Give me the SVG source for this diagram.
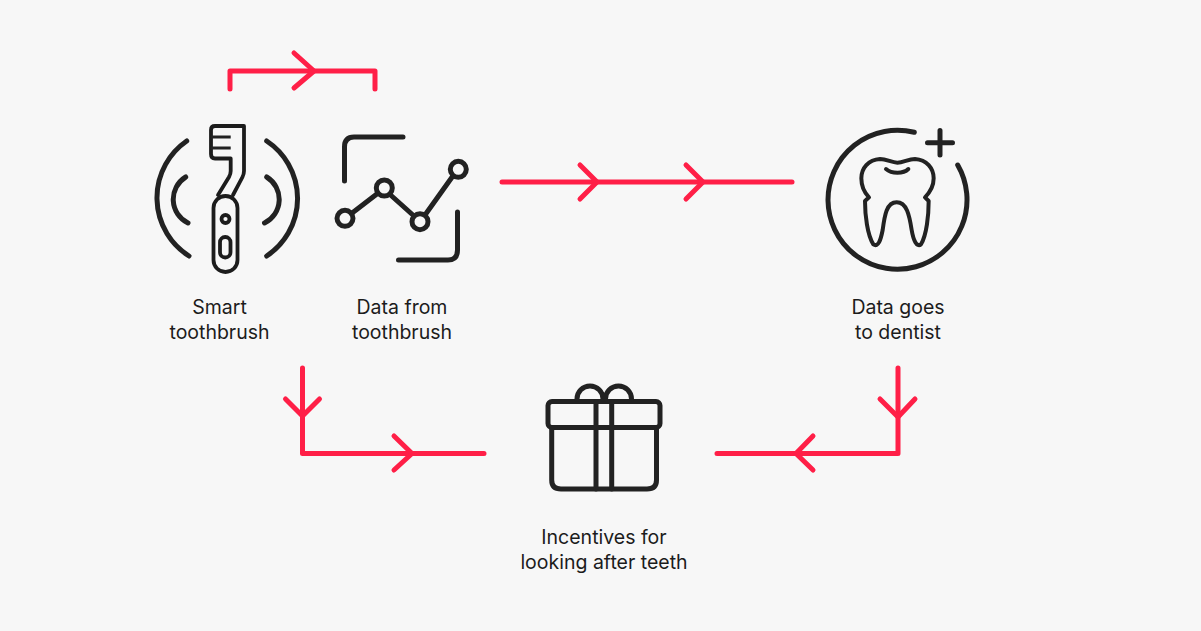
<svg xmlns="http://www.w3.org/2000/svg" width="1201" height="631" viewBox="0 0 1201 631">
<style>
.c{fill:none;stroke:#ff1f47;stroke-width:5;stroke-linecap:round;stroke-linejoin:round}
.i{fill:none;stroke:#222;stroke-width:5;stroke-linecap:round;stroke-linejoin:round}
.t{fill:none;stroke:#1c1c1c;stroke-width:3.800;stroke-linecap:round;stroke-linejoin:round}
.l{font-family:"Inter","Liberation Sans",sans-serif;font-size:19.500px;fill:#1c1c1c;text-anchor:middle}
</style>
<rect width="1201" height="631" fill="#f7f7f7"/>
<g id="connectors">
<path class="c" d="M230 89V71H375V89"/><path class="c" d="M294 53L314 71L294 88"/>
<path class="c" d="M502 182H792"/><path class="c" d="M580 165L597 182L580 199"/><path class="c" d="M686 165L703 182L686 199"/>
<path class="c" d="M302.500 368V453.500H484"/><path class="c" d="M285.500 399L302.500 416L319.500 399"/><path class="c" d="M394 436L412 453.500L394 470"/>
<path class="c" d="M898 368V453.500H717"/><path class="c" d="M880 399L898 417L915 399"/><path class="c" d="M813 436L796 453.500L813 470"/>
</g>
<g id="smart-toothbrush">
<path class="i" d="M186.700 141A69 69 0 0 0 189 256M266.700 141A69 69 0 0 1 266.700 256M185.700 177A26.300 26.300 0 0 0 188 223M266.700 177A26.300 26.300 0 0 1 264.500 223"/>
<rect class="t" x="213.500" y="196" width="24" height="76" rx="12"/>
<circle class="t" cx="225.500" cy="219" r="4"/>
<rect class="t" x="220" y="237" width="10.500" height="20.500" rx="5.200"/>
<path class="t" d="M230.700 126H215Q211 126 211 130V154Q211 158.500 215 158.500H230.700V171Q230.700 174 229 177L218 195M230.700 126H244V171Q244 174 242.500 177L233 195"/>
<path d="M211 137H230.700M211 148H230.700" fill="none" stroke="#222" stroke-width="3"/>
<text class="l" x="219.500" y="314">Smart</text>
<text class="l" x="219.500" y="339">toothbrush</text>
</g>
<g id="data-from-toothbrush">
<path class="i" d="M403 137H354Q344.500 137 344.500 147V181M457.500 212V250Q457.500 260 448 260H398.500"/>
<path class="i" d="M351.500 213.500L377.500 193.500M390 194.500L414 216M425 215L452.500 176.500"/>
<circle class="i" cx="345" cy="218.300" r="8"/>
<circle class="i" cx="384.300" cy="188" r="8"/>
<circle class="i" cx="420" cy="221.700" r="8"/>
<circle class="i" cx="458.300" cy="169.300" r="8"/>
<text class="l" x="402" y="314">Data from</text>
<text class="l" x="402" y="339">toothbrush</text>
</g>
<g id="data-goes-to-dentist">
<path class="i" d="M914.300 132.300A69.500 69.500 0 1 0 957.700 165"/>
<path class="i" d="M927.500 142.700H952.500M940 130.500V155"/>
<g transform="translate(810 115) scale(.33333)">
<path fill="none" stroke="#222" stroke-width="12" stroke-linecap="round" stroke-linejoin="round" d="M262 143C245 143 230 132 210 132C175 134 154 160 154 190C154 215 165 235 177 247L165 258C165 300 172 360 190 388C205 398 212 375 218 345C224 300 230 262 260 262C290 262 298 300 305 345C310 375 320 398 333 388C350 360 356 300 356 258L345 247C360 232 371 215 371 190C371 160 350 134 315 132C295 132 280 143 262 143Z"/>
<path fill="none" stroke="#222" stroke-width="12" stroke-linecap="round" d="M228 162C245 177 280 177 295 162"/>
</g>
<text class="l" x="898" y="314">Data goes</text>
<text class="l" x="898" y="339">to dentist</text>
</g>
<g id="incentives">
<rect class="i" x="548" y="401.500" width="112" height="26" rx="4"/>
<path class="i" d="M551.700 428V480Q551.700 489 561 489H647Q656.500 489 656.500 480V428"/>
<path class="i" d="M596 402V489M611.700 402V489"/>
<path class="i" d="M577 399A13 13 0 0 1 603 399M605.500 399A13 13 0 0 1 631.500 399"/>
<text class="l" x="604" y="544">Incentives for</text>
<text class="l" x="604" y="569">looking after teeth</text>
</g>
</svg>
